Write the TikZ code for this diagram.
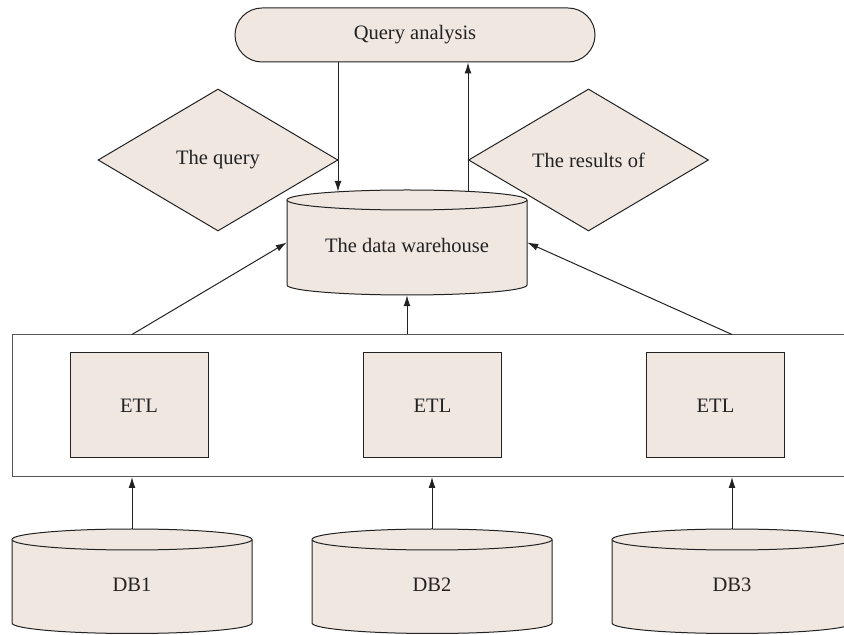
\documentclass[tikz,border=0pt]{standalone}
\usepackage{fontspec}
\setmainfont{Liberation Serif}
\usetikzlibrary{shapes.geometric,arrows.meta,calc}
\definecolor{boxfill}{HTML}{F0E7E1}
\definecolor{edge}{HTML}{222222}
\definecolor{outer}{HTML}{555555}
\newcommand\drawcyl[5]{%
  \filldraw[cylstyle] (#1-#4,#2) -- (#1-#4,#3)
    arc[start angle=180,end angle=360,x radius=#4,y radius=#5]
    -- (#1+#4,#2)
    arc[start angle=0,end angle=180,x radius=#4,y radius=#5] -- cycle;
  \draw[cylstyle] (#1-#4,#2) arc[start angle=180,end angle=360,x radius=#4,y radius=#5];}
\begin{document}
\begin{tikzpicture}[x=1pt,y=1pt,
  every node/.style={font=\fontsize{20.5}{24}\selectfont, text=edge},
  cylstyle/.style={draw=edge, fill=boxfill, line width=1pt},
  etlbox/.style={draw=edge, fill=boxfill, line width=1pt, minimum width=138pt, minimum height=105pt, inner sep=0pt},
  dia/.style={diamond, draw=edge, fill=boxfill, line width=1pt, minimum width=240pt, minimum height=142pt, inner sep=0pt},
  arr/.style={draw=edge, line width=1pt, -{Latex[length=11pt,width=7pt]}},
  hole/.style={inner sep=0pt, minimum width=240pt}]
\clip (0,0) rectangle (844,635);
% query analysis
\node[draw=edge, fill=boxfill, line width=1pt, rounded corners=27pt, minimum width=360pt, minimum height=54pt, inner sep=0pt] (qa) at (415,600) {Query analysis};
% diamonds
\node[dia] (dq) at (218,475) {The query};
\node[dia] (dr) at (588.5,475) {The results of};
% data warehouse cylinder
\drawcyl{407}{435}{350}{120}{10}
\node[hole, minimum height=105pt] (dw) at (407,392.5) {};
\node at (407,390) {The data warehouse};
% big box
\node[draw=outer, line width=1pt, minimum width=858pt, minimum height=141.5pt, inner sep=0pt] (big) at (441,229.25) {};
\node[etlbox] (etl1) at (139,229.5) {ETL};
\node[etlbox] (etl2) at (432.5,229.5) {ETL};
\node[etlbox] (etl3) at (715.5,229.5) {ETL};
% databases
\drawcyl{132}{95.5}{12}{120}{10.5}
\drawcyl{432}{95.5}{12}{120}{10.5}
\drawcyl{732}{95.5}{12}{120}{10.5}
\node[hole, minimum height=104pt] (db1) at (132,54) {};
\node[hole, minimum height=104pt] (db2) at (432,54) {};
\node[hole, minimum height=104pt] (db3) at (732,54) {};
\node at (132,50) {DB1};
\node at (432,50) {DB2};
\node at (732,50) {DB3};
% connectors
\draw[arr] ([xshift=-77pt]qa.south) -- ([xshift=-69pt,yshift=-2pt]dw.north);
\draw[arr] ([xshift=61pt,yshift=-2pt]dw.north) -- ([xshift=53pt]qa.south);
\draw[arr] (big.north -| db1.center) -- (dw.west);
\draw[arr] (big.north -| dw.south) -- (dw.south);
\draw[arr] (big.north -| db3.center) -- (dw.east);
\draw[arr] (db1.north) -- (big.south -| db1.north);
\draw[arr] (db2.north) -- (big.south -| db2.north);
\draw[arr] (db3.north) -- (big.south -| db3.north);
\end{tikzpicture}
\end{document}
